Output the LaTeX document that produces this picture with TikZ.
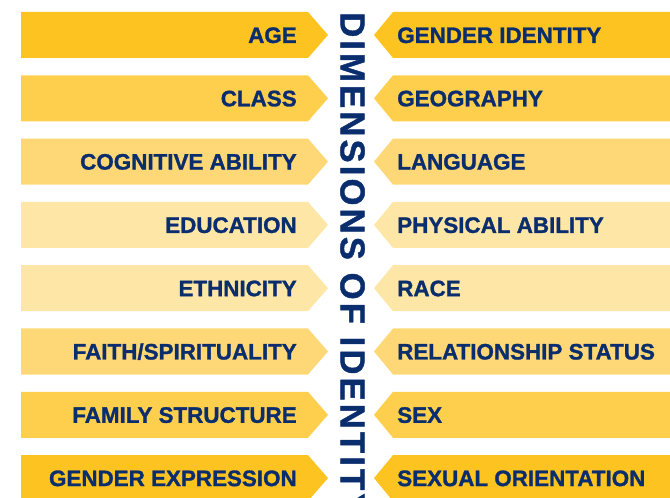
\documentclass[tikz,border=0pt]{standalone}
\usepackage{fontspec}
\setmainfont{Liberation Sans}
\definecolor{navy}{HTML}{0A2D6E}
\definecolor{band1}{HTML}{FDC321}
\definecolor{band2}{HTML}{FECE4D}
\definecolor{band3}{HTML}{FED877}
\definecolor{band4}{HTML}{FEE6A6}

\begin{document}
\begin{tikzpicture}[x=0.75pt,y=-0.75pt,
    dimtext/.style={inner sep=0pt, text=navy, font=\fontsize{16.8}{17}\selectfont\bfseries\addfontfeature{FakeBold=1.2}},
    titletext/.style={inner sep=0pt, text=navy, font=\fontsize{26}{26}\selectfont\bfseries\addfontfeature{LetterSpace=9,FakeBold=1.2}}]
  \useasboundingbox (0,0) rectangle (670,498);
  % Define bands
  \foreach \lt/\rt/\c [count=\i from 0] in {AGE/GENDER IDENTITY/band1,
      CLASS/GEOGRAPHY/band2, COGNITIVE ABILITY/LANGUAGE/band3,
      EDUCATION/PHYSICAL ABILITY/band4, ETHNICITY/RACE/band4,
      {FAITH/SPIRITUALITY}/RELATIONSHIP STATUS/band3,
      FAMILY STRUCTURE/SEX/band2, GENDER EXPRESSION/SEXUAL ORIENTATION/band1}{
    \pgfmathsetmacro{\ytop}{12+63.3*\i}
    \fill[\c] (21,\ytop) -- ++(287,0) -- ++(20,23) -- ++(-20,23) -- ++(-287,0) -- cycle;
    \fill[\c] (670,\ytop) -- ++(-277,0) -- ++(-19,23) -- ++(19,23) -- ++(277,0) -- cycle;
    \node[dimtext, anchor=base east] (left\i) at (297,\ytop+31) {\lt};
    \node[dimtext, anchor=base west] (right\i) at (397,\ytop+31) {\rt};
  }
  % Define title
  \node[titletext, rotate=-90, anchor=west] (title) at (352.5,12) {DIMENSIONS OF IDENTITY};
\end{tikzpicture}
\end{document}
